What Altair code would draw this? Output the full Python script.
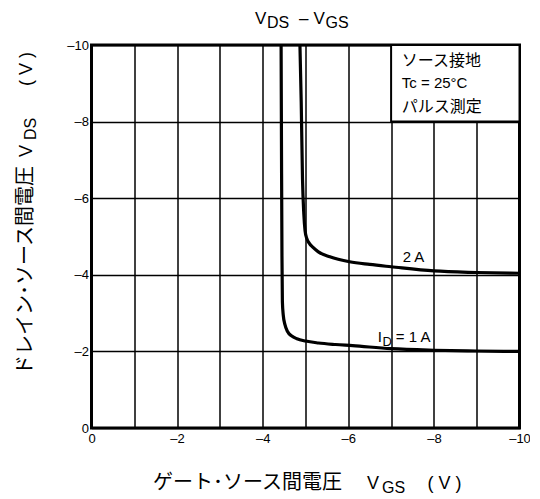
import altair as alt
import pandas as pd

# ---- data ----
vgs_1a = [-4.43, -4.44, -4.45, -4.46, -4.48, -4.52, -4.58, -4.68, -4.80, -5.00, -5.30, -5.70, -6.10, -7.00, -8.00, -9.00, -10.0]
vds_1a = [-10.0, -7.0, -4.5, -3.3, -2.95, -2.70, -2.52, -2.40, -2.33, -2.27, -2.22, -2.18, -2.15, -2.07, -2.03, -2.01, -2.00]

vgs_2a = [-4.87, -4.90, -4.93, -4.96, -4.99, -5.03, -5.09, -5.17, -5.30, -5.57, -6.03, -6.50, -7.00, -8.00, -9.00, -10.0]
vds_2a = [-10.0, -8.5, -6.5, -5.6, -5.15, -4.95, -4.82, -4.72, -4.60, -4.47, -4.34, -4.27, -4.21, -4.10, -4.06, -4.04]

grid_values = list(range(-10, 1))

box_lines = ["ソース接地", "Tc = 25°C", "パルス測定"]
box_fonts = ["Noto Sans CJK JP", "Liberation Sans", "Noto Sans CJK JP"]
box_sizes = [16, 15, 16]
box_y = [-9.45, -8.87, -8.25]

LAT = "Liberation Sans"
JP = "Noto Sans CJK JP"

rows = []
for i, (a, b) in enumerate(zip(vgs_1a, vds_1a)):
    rows.append({"vgs": a, "vds": b, "id": "1 A", "idx": i})
for i, (a, b) in enumerate(zip(vgs_2a, vds_2a)):
    rows.append({"vgs": a, "vds": b, "id": "2 A", "idx": i})
curves = pd.DataFrame(rows)

xscale = alt.Scale(domain=[-10, 0], reverse=True, nice=False, zero=False)
yscale = alt.Scale(domain=[-10, 0], reverse=True, nice=False, zero=False)

lab = "datum.value == 0 ? '0' : (datum.value % 2 == 0 ? '–' + abs(datum.value) : '')"

x_axis = alt.Axis(values=grid_values, labelExpr=lab, grid=True, ticks=False, domain=False,
                  title=None, labelFlush=False, labelOverlap=False, labelPadding=4,
                  labelFont=LAT, labelFontSize=13, labelColor="black",
                  gridColor="#000", gridWidth=1.5)
y_axis = alt.Axis(values=grid_values, labelExpr=lab, grid=True, ticks=False, domain=False,
                  title=None, labelFlush=False, labelOverlap=False, labelPadding=3,
                  labelFont=LAT, labelFontSize=13, labelColor="black",
                  gridColor="#000", gridWidth=1.5)

lines = alt.Chart(curves).mark_line(color="black", strokeWidth=3.2, interpolate="monotone").encode(
    x=alt.X("vgs:Q", scale=xscale, axis=x_axis),
    y=alt.Y("vds:Q", scale=yscale, axis=y_axis),
    detail="id:N",
    order="idx:Q",
)

box = alt.Chart(pd.DataFrame({"x": [-7], "x2": [-10], "y": [-8], "y2": [-10]})).mark_rect(
    fill="white", stroke="black", strokeWidth=2
).encode(
    x=alt.X("x:Q", scale=xscale), x2="x2:Q",
    y=alt.Y("y:Q", scale=yscale), y2="y2:Q",
)

def dtext(txt, x, y, size, font):
    return alt.Chart(pd.DataFrame({"t": [txt], "x": [x], "y": [y]})).mark_text(
        align="left", baseline="alphabetic", fontSize=size, font=font, color="black"
    ).encode(x=alt.X("x:Q", scale=xscale), y=alt.Y("y:Q", scale=yscale), text="t:N")

def ptext(txt, x, y, size, font, angle=0):
    return alt.Chart(pd.DataFrame({"t": [txt]})).mark_text(
        align="left", baseline="alphabetic", fontSize=size, font=font, color="black", angle=angle
    ).encode(x=alt.value(x), y=alt.value(y), text="t:N")

layers = [box, lines]
for t, f, s, yy in zip(box_lines, box_fonts, box_sizes, box_y):
    layers.append(dtext(t, -7.25, yy, s, f))

# curve labels
layers += [
    dtext("2 A", -7.27, -4.33, 15, LAT),
    dtext("I", -6.69, -2.245, 15, LAT),
    dtext("D", -6.80, -2.14, 13, LAT),
    dtext("= 1 A", -7.11, -2.245, 15, LAT),
]

# title  V_DS – V_GS
layers += [
    ptext("V", 163.5, -21, 17, LAT),
    ptext("DS", 175.5, -17, 16, LAT),
    ptext("–", 207.5, -21, 17, LAT),
    ptext("V", 222, -21, 17, LAT),
    ptext("GS", 234, -17, 16, LAT),
]

# x title
layers += [
    ptext("ゲート･ソース間電圧", 61.5, 444, 20, JP),
    ptext("V", 275.5, 444, 18, LAT),
    ptext("GS", 290.5, 448, 16, LAT),
    ptext("( V )", 336, 444, 18, LAT),
]

# y title (rotated)
layers += [
    ptext("ドレイン･ソース間電圧", -60, 330, 20, JP, 270),
    ptext("V", -59.5, 112, 18, LAT, 270),
    ptext("DS", -55.5, 95, 16, LAT, 270),
    ptext("( V )", -59.5, 41, 18, LAT, 270),
]

chart = alt.layer(*layers).properties(
    width=428, height=383,
    autosize=alt.AutoSizeParams(type="none"),
    padding={"left": 83.5, "top": 37, "right": 10, "bottom": 69},
    background="white",
).configure_view(stroke="black", strokeWidth=3)

chart.save("out.html", embed_options={"renderer": "svg", "actions": False})
